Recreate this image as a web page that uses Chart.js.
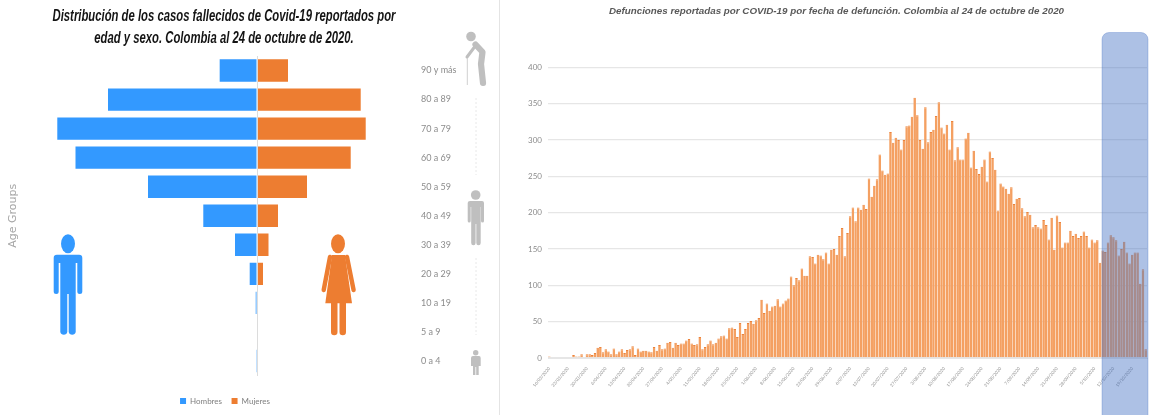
<!DOCTYPE html>
<html lang="es">
<head>
<meta charset="utf-8">
<title>Covid-19 Colombia</title>
<script src="https://cdn.jsdelivr.net/npm/chart.js@4"></script>
<style>
html,body{margin:0;padding:0;background:#fff;width:1159px;height:415px;overflow:hidden}
#wrap{position:relative;width:1159px;height:415px;filter:blur(.55px)}
#cLeft{position:absolute;left:0;top:0}
#cRight{position:absolute;left:500px;top:0}
#overlay{position:absolute;left:0;top:0;pointer-events:none}
#tituloIzq{position:absolute;left:224px;top:4px;transform:translateX(-50%) scaleX(.685);white-space:nowrap;text-align:center;
  font:italic bold 16.5px/22px 'Liberation Sans',sans-serif;color:#141414}
</style>
</head>
<body>
<div id="wrap">
<canvas id="cLeft" width="500" height="415" style="width:500px;height:415px"></canvas>
<canvas id="cRight" width="659" height="415" style="width:659px;height:415px"></canvas>
<div id="tituloIzq">Distribución de los casos fallecidos de Covid-19 reportados por<br>edad y sexo. Colombia al 24 de octubre de 2020.</div>
<svg id="overlay" width="1159" height="415" viewBox="0 0 1159 415" xmlns="http://www.w3.org/2000/svg">
  <line x1="499.5" y1="0" x2="499.5" y2="415" stroke="#e4e4e4" stroke-width="1"/>
  <line x1="476" y1="98" x2="476" y2="175" stroke="#e8e8e8" stroke-width="1" stroke-dasharray="2 2"/>
  <line x1="476" y1="258" x2="476" y2="335" stroke="#e8e8e8" stroke-width="1" stroke-dasharray="2 2"/>
  <!-- Hombre -->
  <g fill="#3399FF">
    <ellipse cx="68" cy="243.7" rx="7" ry="9.5"/>
    <path d="M57 254.7H79Q82.3 254.7 82.3 258V291.5a2.5 2.5 0 0 1-5 0V263H75.7V332a3.6 3.6 0 0 1-7 0V294H67.3V332a3.6 3.6 0 0 1-7 0V263H58.7V291.5a2.5 2.5 0 0 1-5 0V258Q53.7 254.7 57 254.7Z"/>
  </g>
  <!-- Mujer -->
  <g fill="#ED7D31" stroke="none">
    <ellipse cx="338" cy="243.7" rx="7" ry="9.5"/>
    <path d="M332 255H345L352 303.3H325.3Z"/>
    <path d="M331 303H337.5V332a3.2 3.2 0 0 1-6.5 0ZM339.5 303H346V332a3.2 3.2 0 0 1-6.5 0Z"/>
    <path d="M330 257L323.7 290M347 257L353.6 290" stroke="#ED7D31" stroke-width="4.4" stroke-linecap="round" fill="none"/>
  </g>
  <!-- Figuras grises -->
  <g fill="#BFBFBF">
    <circle cx="471" cy="36.5" r="4.8"/>
    <path d="M475.5 44.5L482.5 52L481 64L483 83" stroke="#BFBFBF" stroke-width="6.2" stroke-linecap="round" stroke-linejoin="round" fill="none"/>
    <path d="M474.5 47L467 57" stroke="#BFBFBF" stroke-width="3" stroke-linecap="round" fill="none"/>
    <line x1="467.3" y1="58" x2="467.3" y2="85" stroke="#D0D0D0" stroke-width="1"/>
    <circle cx="475.7" cy="195" r="4.8"/>
    <path d="M470 201H482Q484 201 484 203V221a1.5 1.5 0 0 1-3 0V207H480.7V243a2.2 2.2 0 0 1-4.4 0V224H475.6V243a2.2 2.2 0 0 1-4.4 0V207H470.7V221a1.5 1.5 0 0 1-3 0V203Q467.7 201 470 201Z"/>
    <circle cx="475.7" cy="352.7" r="2.7"/>
    <path d="M473 356H479Q480.7 356 480.7 358V366H478.7V375H476.2V367H475.4V375H473V366H471V358Q471 356 473 356Z"/>
  </g>
  <!-- Banda resaltada -->
  <rect x="1102" y="32.5" width="46" height="390" rx="7" ry="7" fill="rgba(68,114,196,.44)" stroke="rgba(68,114,196,.30)" stroke-width="1"/>
</svg>
</div>
<script>
const ageGroups = ['90 y más','80 a 89','70 a 79','60 a 69','50 a 59','40 a 49','30 a 39','20 a 29','10 a 19','5 a 9','0 a 4'];
const hombres = [-1045,-4172,-5592,-5082,-3052,-1504,-616,-204,-36,0,-22];
const mujeres = [868,2904,3044,2624,1400,588,322,168,28,0,28];

const tickEvery = 7;
const defunciones = [
2,0,0,0,0,0,1,1,1,4,2,2,5,1,5,5,4,7,14,15,8,12,9,5,13,5,9,12,7,11,
12,16,4,13,9,10,10,9,8,15,10,18,12,13,21,22,14,21,18,20,20,24,26,20,18,19,29,12,15,19,
24,19,21,27,30,31,27,41,42,40,29,48,33,40,48,51,47,52,55,80,62,75,65,71,72,81,71,75,79,82,
112,100,110,107,123,113,113,140,139,130,142,141,136,145,130,149,150,142,168,179,
140,172,195,207,188,207,204,211,205,247,222,237,246,280,258,252,254,311,296,303,300,287,300,319,320,332,358,334,300,288,
345,297,311,314,333,352,317,309,321,287,326,272,290,273,273,302,310,262,285,260,253,263,273,243,284,275,259,203,240,236,
233,226,235,212,219,220,206,195,201,197,180,183,180,178,190,183,163,193,149,196,187,152,159,159,175,168,171,165,168,174,
168,152,163,159,162,131,148,146,159,169,166,162,141,150,160,145,130,142,145,145,102,122,12];

function fechaLabel(i){
  const d = new Date(2020, 2, 16 + i);
  return d.getDate() + '/' + String(d.getMonth() + 1).padStart(2, '0') + '/' + d.getFullYear();
}
const fechas = defunciones.map((_, i) => fechaLabel(i));

Chart.defaults.animation = false;
Chart.defaults.responsive = false;

const etiquetasSinRecorte = {
  id: 'etiquetasSinRecorte',
  beforeDraw(chart) { chart.scales.y.right = chart.width; }
};

new Chart(document.getElementById('cLeft'), {
  type: 'bar',
  plugins: [etiquetasSinRecorte],
  data: {
    labels: ageGroups,
    datasets: [
      {label: 'Hombres', data: hombres, backgroundColor: '#3399FF', barPercentage: .77, categoryPercentage: 1},
      {label: 'Mujeres', data: mujeres, backgroundColor: '#ED7D31', barPercentage: .77, categoryPercentage: 1}
    ]
  },
  options: {
    indexAxis: 'y',
    devicePixelRatio: 1,
    layout: {padding: {right: 50, top: 56}},
    plugins: {
      tooltip: {enabled: false},
      title: {display: false},
      legend: {
        position: 'bottom',
        labels: {boxWidth: 6, boxHeight: 6, padding: 9.5, color: '#7f7f7f', font: {family: "'Lato'", size: 8}}
      }
    },
    scales: {
      x: {
        stacked: true, min: -5880, max: 4424,
        afterBuildTicks: a => { a.ticks = [{value: 0}]; },
        afterFit: a => { a.height = 12; },
        ticks: {display: false},
        border: {display: false},
        grid: {color: '#dcdcdc', drawTicks: false, z: 1}
      },
      y: {
        stacked: true, position: 'right',
        afterFit: a => { a.width = 35; },
        ticks: {padding: 6, color: '#8c8c8c', font: {family: "'Lato'", size: 9}},
        border: {display: false},
        grid: {display: false, drawTicks: false}
      },
      yL: {
        type: 'category', axis: 'y', position: 'left',
        afterFit: a => { a.width = 47; },
        ticks: {display: false},
        border: {display: false},
        grid: {display: false, drawTicks: false},
        title: {display: true, text: 'Age Groups', color: '#a6a6a6', font: {family: "'DejaVu Sans'", size: 11}, padding: {top: 7, bottom: 0}}
      }
    }
  }
});

new Chart(document.getElementById('cRight'), {
  type: 'bar',
  data: {
    labels: fechas,
    datasets: [{
      label: 'Defunciones',
      data: defunciones,
      backgroundColor: '#F4A062',
      borderColor: '#EC833B',
      borderWidth: {top: 1, left: 0, right: 0, bottom: 0},
      borderSkipped: false,
      barPercentage: .98,
      categoryPercentage: 1
    }]
  },
  options: {
    devicePixelRatio: 1,
    layout: {padding: {left: 26, right: 12}},
    plugins: {
      tooltip: {enabled: false},
      legend: {display: false},
      title: {
        display: true,
        text: 'Defunciones reportadas por COVID-19 por fecha de defunción. Colombia al 24 de octubre de 2020',
        color: '#595959',
        font: {family: "'Liberation Sans'", size: 9.8, weight: 'bold', style: 'italic'},
        padding: {top: 5, bottom: 50.5}
      }
    },
    scales: {
      x: {
        afterFit: a => { a.height = 57; },
        ticks: {
          autoSkip: false, maxRotation: 50, minRotation: 50, padding: 0,
          color: '#8f8f8f', font: {family: "'Lato'", size: 4.4},
          callback(v, i) { return i % tickEvery === 0 ? this.getLabelForValue(v) : ''; }
        },
        border: {color: '#e6e6e6'},
        grid: {display: false}
      },
      y: {
        min: 0, max: 400,
        afterFit: a => { a.width = 22; },
        ticks: {stepSize: 50, padding: 6, color: '#8c8c8c', font: {family: "'Lato'", size: 8}},
        border: {display: false},
        grid: {color: '#e6e6e6', lineWidth: 1.3, drawTicks: false}
      }
    }
  }
});
</script>
</body>
</html>
